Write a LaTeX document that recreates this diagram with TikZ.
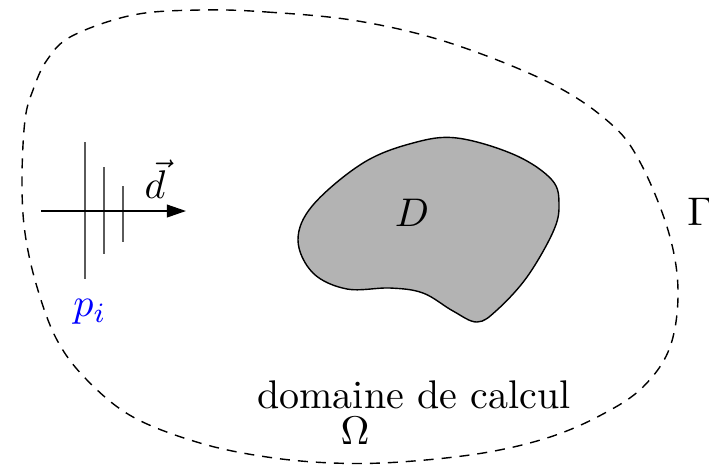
\documentclass[tikz,border=0pt]{standalone}
\usetikzlibrary{arrows.meta}
\definecolor{blobgray}{RGB}{179,179,179}
\definecolor{ticgray}{RGB}{90,90,90}
\tikzset{
  boundary/.style={dash pattern=on 2.5pt off 2pt, line width=0.35pt},
  blob/.style={fill=blobgray, draw=black, line width=0.35pt},
  wavefront/.style={draw=ticgray, line width=0.4pt},
  dirarrow/.style={-{Triangle[length=4.8pt,width=3.2pt]}, line width=0.4pt},
  lbl/.style={inner sep=0pt, font=\normalsize}
}
\begin{document}
\begin{tikzpicture}[x=0.25pt,y=-0.25pt]
\useasboundingbox (0,0) rectangle (709,465);
% outer domain boundary Gamma
\draw[boundary] plot[smooth cycle, tension=0.6] coordinates {
 (200,10) (267,12) (358,21) (450,43) (550,83) (610,123) (640,162)
 (668,230) (678,290) (670,347) (643,387) (603,414) (550,437) (483,453)
 (400,462) (333,463) (267,457) (200,443) (133,417) (87,380) (57,340)
 (37,287) (25,233) (22,180) (25,120) (33,90) (47,60) (72,36) (133,15)};
% obstacle D
\draw[blob] plot[smooth cycle, tension=0.6] coordinates {
 (457,138) (515,155) (552,180) (559,205) (553,232) (527,277) (497,310)
 (477,322) (453,311) (423,293) (390,288) (347,289) (313,273) (298,240)
 (313,205) (363,163) (413,143)};
% wave fronts
\coordinate (a1) at (85,142); \coordinate (b1) at (85,279);
\coordinate (a2) at (104,167); \coordinate (b2) at (104,254);
\coordinate (a3) at (123,186); \coordinate (b3) at (123,242);
\draw[wavefront] (a1) -- (b1);
\draw[wavefront] (a2) -- (b2);
\draw[wavefront] (a3) -- (b3);
% direction arrow
\coordinate (s) at (41,211);
\coordinate (e) at (186,211);
\draw[dirarrow] (s) -- (e);
% labels
\node[lbl] (dlab) at (155,179) {$\vec{d}$};
\node[lbl, text=blue] (plab) at (90,312) {$p_i$};
\node[lbl] (Dlab) at (412,213) {$D$};
\node[lbl] (Glab) at (700,212) {$\Gamma$};
\node[lbl] (dom) at (414,395) {domaine de calcul};
\node[lbl] (om) at (355,431) {$\Omega$};
\end{tikzpicture}
\end{document}
